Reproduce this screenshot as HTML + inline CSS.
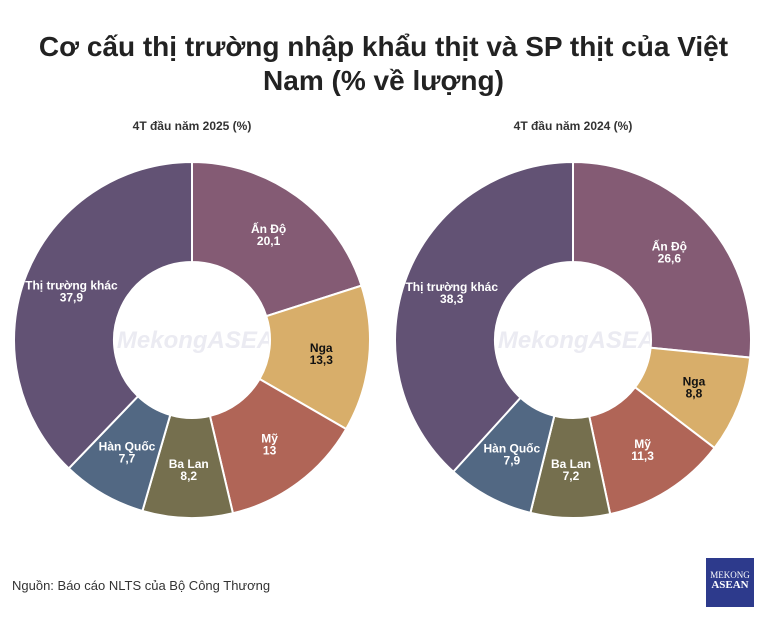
<!DOCTYPE html>
<html><head><meta charset="utf-8"><style>
body{margin:0;width:767px;height:622px;background:#fff;font-family:"Liberation Sans",sans-serif;overflow:hidden;position:relative}
h1{position:absolute;left:0;top:30px;width:767px;margin:0;text-align:center;font-size:28px;line-height:34px;font-weight:bold;color:#222}
.src{position:absolute;left:12px;top:578px;font-size:13px;color:#333}
.logo{position:absolute;left:706px;top:558px;width:48px;height:49px;background:#2d3a8c;color:#fff;font-family:"Liberation Serif",serif;text-align:center;font-size:9px;line-height:10px;padding-top:12px;box-sizing:border-box}
</style></head><body>
<h1>Cơ cấu thị trường nhập khẩu thịt và SP thịt của Việt<br>Nam (% về lượng)</h1>
<svg id="chart" width="767" height="622" style="position:absolute;left:0;top:0"></svg>
<div class="src">Nguồn: Báo cáo NLTS của Bộ Công Thương</div>
<div class="logo">MEKONG<br><b style="font-size:11px">ASEAN</b></div>
<script>
const categories=["Ấn Độ","Nga","Mỹ","Ba Lan","Hàn Quốc","Thị trường khác"];
const values2025=[20.1,13.3,13,8.2,7.7,37.9];
const values2024=[26.6,8.8,11.3,7.2,7.9,38.3];
const labels2025=["20,1","13,3","13","8,2","7,7","37,9"];
const labels2024=["26,6","8,8","11,3","7,2","7,9","38,3"];
const colors=["#845b74","#d8ae6a","#b06557","#756f4e","#526883","#625274"];
const svg=document.getElementById('chart');
const NS="http://www.w3.org/2000/svg";
function pt(cx,cy,r,a){return [cx+r*Math.sin(a),cy-r*Math.cos(a)];}
function donut(cx,cy,vals,labs,title,key){
  const R=178,r=78,tot=vals.reduce((a,b)=>a+b,0);
  const t=document.createElementNS(NS,'text');
  
  
  t.setAttribute('x',cx);t.setAttribute('y',130);t.setAttribute('text-anchor','middle');
  t.setAttribute('font-size','12');t.setAttribute('font-weight','bold');t.setAttribute('fill','#333');
  t.textContent=title;svg.appendChild(t);
  const w=document.createElementNS(NS,'text');
  
  
  w.setAttribute('x',cx);w.setAttribute('y',cy+8);w.setAttribute('text-anchor','middle');
  w.setAttribute('font-size','24');w.setAttribute('font-style','italic');w.setAttribute('font-weight','bold');
  w.setAttribute('fill','#ebebf2');
  w.textContent='w.MekongASEAN';svg.appendChild(w);
  let a0=0;
  vals.forEach((v,i)=>{
    const a1=a0+v/tot*2*Math.PI;
    const [x1,y1]=pt(cx,cy,R,a0),[x2,y2]=pt(cx,cy,R,a1),[x3,y3]=pt(cx,cy,r,a1),[x4,y4]=pt(cx,cy,r,a0);
    const lg=(a1-a0)>Math.PI?1:0;
    const p=document.createElementNS(NS,'path');
    
    
    p.setAttribute('d',`M${x1},${y1}A${R},${R} 0 ${lg} 1 ${x2},${y2}L${x3},${y3}A${r},${r} 0 ${lg} 0 ${x4},${y4}Z`);
    p.setAttribute('fill',colors[i]);p.setAttribute('stroke','#fff');p.setAttribute('stroke-width','2');
    svg.appendChild(p);
    const [lx,ly]=pt(cx,cy,130,(a0+a1)/2);
    const tx=document.createElementNS(NS,'text');
    
    
    tx.setAttribute('x',lx);tx.setAttribute('y',ly-2);tx.setAttribute('text-anchor','middle');
    tx.setAttribute('font-size','12');tx.setAttribute('font-weight','bold');
    tx.setAttribute('fill',i==1?'#111':'#fff');
    tx.innerHTML=`<tspan x="${lx}">${categories[i]}</tspan><tspan x="${lx}" dy="12">${labs[i]}</tspan>`;
    svg.appendChild(tx);
    a0=a1;
  });
}
donut(192,340,values2025,labels2025,'4T đầu năm 2025 (%)','donut-2025');
donut(573,340,values2024,labels2024,'4T đầu năm 2024 (%)','donut-2024');
</script>
</body></html>
